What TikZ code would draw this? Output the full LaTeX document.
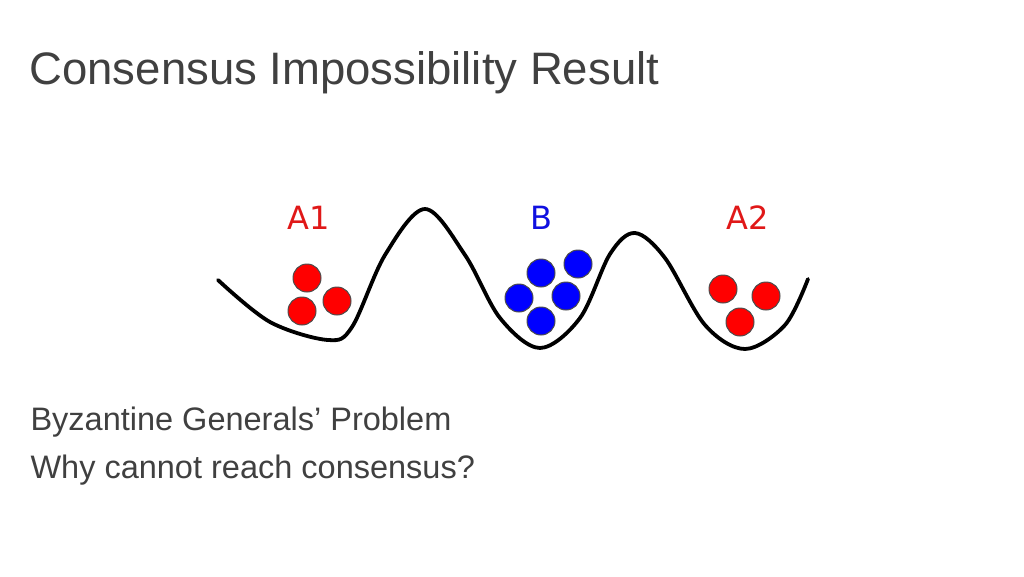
\documentclass[tikz,border=0pt]{standalone}
\usepackage{fontspec}
\setmainfont{Liberation Sans}
\newfontfamily\dejavu{DejaVu Sans}
\definecolor{txt}{HTML}{404040}
\definecolor{rball}{HTML}{FF0000}
\definecolor{bball}{HTML}{0000FF}
\definecolor{rlbl}{HTML}{E01818}
\definecolor{blbl}{HTML}{1010E0}
\begin{document}
\begin{tikzpicture}[x=1pt,y=-1pt,
  rb/.style={circle,draw=black!70,line width=1pt,fill=rball,minimum size=28pt,inner sep=0pt},
  bb/.style={circle,draw=black!70,line width=1pt,fill=bball,minimum size=28pt,inner sep=0pt},
  lbl/.style={font=\dejavu\fontsize{32}{32}\selectfont},
  body/.style={anchor=west,text=txt,font=\fontsize{32.5}{32}\selectfont}]
\useasboundingbox (0,0) rectangle (1024,576);
\node[anchor=west,text=txt,font=\fontsize{45.5}{46}\selectfont] (title) at (26,73) {Consensus Impossibility Result};
\draw[line width=3.8pt,line cap=round] plot[smooth,tension=0.55] coordinates
 {(218,280) (270,322) (328,340) (352,327) (385,255) (425,209) (465,255) (500,318) (540,348) (580,318) (610,254) (635,233) (665,258) (705,325) (745,349) (785,325) (808,279)};
\node[lbl,text=rlbl] (a1) at (309,218) {A1};
\node[lbl,text=blbl] (b) at (541,218) {B};
\node[lbl,text=rlbl] (a2) at (748,218) {A2};
\node[rb] (r1) at (307,278) {};
\node[rb] (r2) at (302,311) {};
\node[rb] (r3) at (337,301) {};
\node[bb] (b1) at (541,273) {};
\node[bb] (b2) at (578,264) {};
\node[bb] (b3) at (519,298) {};
\node[bb] (b4) at (566,296) {};
\node[bb] (b5) at (541,321) {};
\node[rb] (r4) at (723,289) {};
\node[rb] (r5) at (766,296) {};
\node[rb] (r6) at (740,322) {};
\node[body] (l1) at (27,422) {Byzantine Generals’ Problem};
\node[body] (l2) at (27,470) {Why cannot reach consensus?};
\end{tikzpicture}
\end{document}
